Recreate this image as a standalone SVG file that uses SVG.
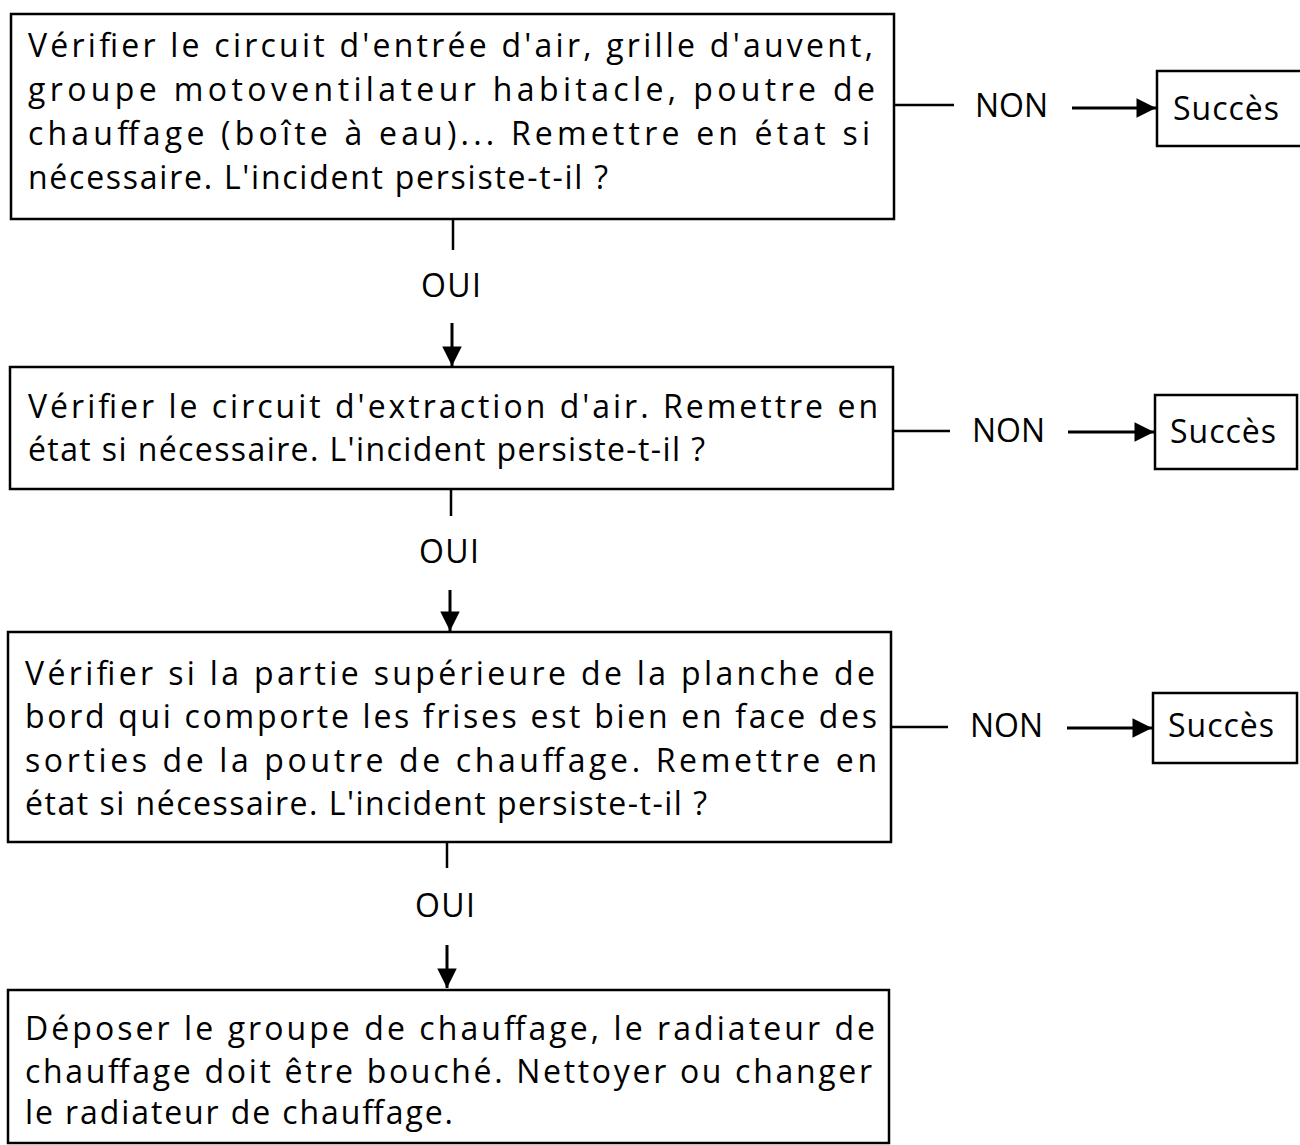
<svg xmlns="http://www.w3.org/2000/svg" width="1300" height="1145" viewBox="0 0 1300 1145">
<defs>
<style>
.box{fill:#fff;stroke:#000;stroke-width:2.5}
.t{font-family:"Open Sans","DejaVu Sans",sans-serif;font-size:32px;fill:#000}
.lbl{font-family:"Open Sans","DejaVu Sans",sans-serif;font-size:32px;fill:#000}
.ln{stroke:#000;stroke-width:2.5;fill:none}
.arr{stroke:#000;stroke-width:3;fill:none}
</style>
<marker id="ah" viewBox="0 0 10 10" refX="10" refY="5" markerWidth="8" markerHeight="6.5" orient="auto" markerUnits="strokeWidth">
<path d="M0,0 L10,5 L0,10 z" fill="#000"/>
</marker>
</defs>
<rect width="1300" height="1145" fill="#fff"/>

<g id="n1">
<rect class="box" x="11" y="14" width="883" height="205"/>
<text class="t" x="28" y="57" textLength="845" lengthAdjust="spacing">Vérifier le circuit d'entrée d'air, grille d'auvent,</text>
<text class="t" x="28" y="101" textLength="847" lengthAdjust="spacing">groupe motoventilateur habitacle, poutre de</text>
<text class="t" x="28" y="145" textLength="842" lengthAdjust="spacing">chauffage (boîte à eau)... Remettre en état si</text>
<text class="t" x="28" y="189" textLength="580" lengthAdjust="spacing">nécessaire. L'incident persiste-t-il ?</text>
</g>

<g id="s1">
<rect class="box" x="1157" y="71" width="145" height="75"/>
<text class="lbl" x="1173" y="120" textLength="106" lengthAdjust="spacing">Succès</text>
</g>

<g id="n2">
<rect class="box" x="10" y="367" width="883" height="122"/>
<text class="t" x="28" y="418" textLength="850" lengthAdjust="spacing">Vérifier le circuit d'extraction d'air. Remettre en</text>
<text class="t" x="28" y="461" textLength="677" lengthAdjust="spacing">état si nécessaire. L'incident persiste-t-il ?</text>
</g>

<g id="s2">
<rect class="box" x="1155" y="395" width="142" height="74"/>
<text class="lbl" x="1170" y="443" textLength="106" lengthAdjust="spacing">Succès</text>
</g>

<g id="n3">
<rect class="box" x="8" y="632" width="883" height="210"/>
<text class="t" x="25" y="685" textLength="850" lengthAdjust="spacing">Vérifier si la partie supérieure de la planche de</text>
<text class="t" x="25" y="728" textLength="852" lengthAdjust="spacing">bord qui comporte les frises est bien en face des</text>
<text class="t" x="25" y="772" textLength="852" lengthAdjust="spacing">sorties de la poutre de chauffage. Remettre en</text>
<text class="t" x="25" y="815" textLength="682" lengthAdjust="spacing">état si nécessaire. L'incident persiste-t-il ?</text>
</g>

<g id="s3">
<rect class="box" x="1153" y="693" width="144" height="70"/>
<text class="lbl" x="1168" y="737" textLength="106" lengthAdjust="spacing">Succès</text>
</g>

<g id="n4">
<rect class="box" x="8" y="990" width="881" height="153"/>
<text class="t" x="25" y="1040" textLength="850" lengthAdjust="spacing">Déposer le groupe de chauffage, le radiateur de</text>
<text class="t" x="25" y="1083" textLength="847" lengthAdjust="spacing">chauffage doit être bouché. Nettoyer ou changer</text>
<text class="t" x="25" y="1124" textLength="428" lengthAdjust="spacing">le radiateur de chauffage.</text>
</g>

<g id="connectors">
<line class="ln" x1="453" y1="219" x2="453" y2="250"/>
<text class="lbl" x="451" y="297" text-anchor="middle" textLength="60" lengthAdjust="spacing">OUI</text>
<line class="arr" x1="452" y1="323" x2="452" y2="366" marker-end="url(#ah)"/>

<line class="ln" x1="451" y1="489" x2="451" y2="516"/>
<text class="lbl" x="449" y="563" text-anchor="middle" textLength="60" lengthAdjust="spacing">OUI</text>
<line class="arr" x1="450" y1="590" x2="450" y2="631" marker-end="url(#ah)"/>

<line class="ln" x1="447" y1="842" x2="447" y2="868"/>
<text class="lbl" x="445" y="917" text-anchor="middle" textLength="60" lengthAdjust="spacing">OUI</text>
<line class="arr" x1="447" y1="945" x2="447" y2="988" marker-end="url(#ah)"/>

<line class="ln" x1="894" y1="105" x2="954" y2="105"/>
<text class="lbl" x="975" y="117">NON</text>
<line class="arr" x1="1072" y1="108" x2="1156" y2="108" marker-end="url(#ah)"/>

<line class="ln" x1="893" y1="431" x2="950" y2="431"/>
<text class="lbl" x="972" y="442">NON</text>
<line class="arr" x1="1068" y1="432" x2="1154" y2="432" marker-end="url(#ah)"/>

<line class="ln" x1="891" y1="727" x2="948" y2="727"/>
<text class="lbl" x="970" y="737">NON</text>
<line class="arr" x1="1067" y1="728" x2="1152" y2="728" marker-end="url(#ah)"/>
</g>
</svg>
